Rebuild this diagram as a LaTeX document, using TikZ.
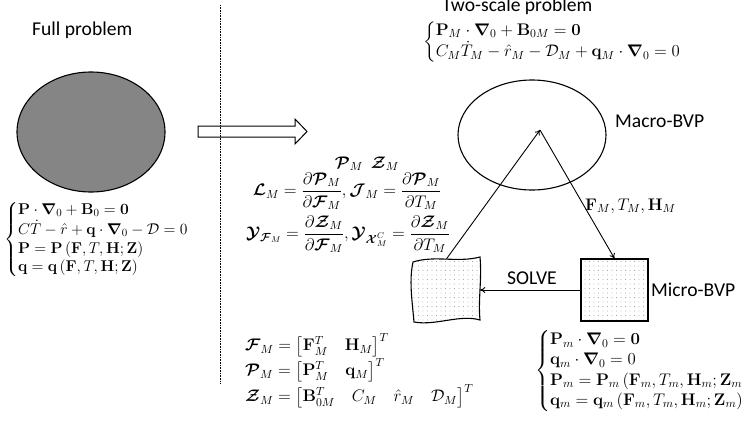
\RequirePackage{fix-cm}
\documentclass[tikz,border=0pt]{standalone}
\usepackage{amsmath,amssymb}
\usepackage[no-math]{fontspec}
\setmainfont{Carlito}
\usetikzlibrary{arrows.meta,patterns.meta,shapes.geometric}
\newcommand{\bc}[1]{\boldsymbol{\mathcal{#1}}}
\newcommand{\bnab}{\boldsymbol{\nabla}}
\tikzset{
  lbl/.style={font=\fontsize{19.6}{22}\selectfont, inner sep=0pt},
  eq/.style={font=\fontsize{16.8}{16.8}\selectfont, inner sep=0pt},
  eqs/.style={font=\fontsize{15.6}{15.6}\selectfont, inner sep=0pt},
  conn/.style={-{To[length=5pt,width=6pt]}, line width=0.9pt},
  bvp/.style={line width=1.1pt},
  dotfill/.style={pattern={Dots[distance=4.5pt,radius=0.45pt]}, pattern color=black!55},
}
\begin{document}
\begin{tikzpicture}[x=1pt,y=-1pt]
\useasboundingbox (0,0) rectangle (743,428);

% left side
\node[lbl, anchor=base west] (fulltitle) at (32,35.7) {Full problem};
\node[draw, ellipse, bvp, fill=black!48, minimum width=148, minimum height=120, inner sep=0pt] (full) at (91,132) {};
\node[eqs, anchor=west] (fulleq) at (4,239.5) {$\begin{cases}\mathbf{P}\cdot\bnab_0+\mathbf{B}_0=\mathbf{0}\\ C\dot{T}-\hat{r}+\mathbf{q}\cdot\bnab_0-\mathcal{D}=0\\ \mathbf{P}=\mathbf{P}\left(\mathbf{F},T,\mathbf{H};\mathbf{Z}\right)\\ \mathbf{q}=\mathbf{q}\left(\mathbf{F},T,\mathbf{H};\mathbf{Z}\right)\end{cases}$};

% block arrow and divider
\draw[line width=1pt] (198,126) -- (295,126) -- (295,119) -- (307,131.5) -- (295,144) -- (295,137) -- (198,137) -- cycle;
\draw[line width=0.8pt, dash pattern=on 0.8pt off 0.8pt] (220,5) -- (220,383);

% two-scale
\node[lbl, anchor=base west] (twotitle) at (442,12) {Two-scale problem};
\node[eq, anchor=west] (macroeq) at (423,42) {$\begin{cases}\mathbf{P}_M\cdot\bnab_0+\mathbf{B}_{0M}=\mathbf{0}\\ C_M\dot{T}_M-\hat{r}_M-\mathcal{D}_M+\mathbf{q}_M\cdot\bnab_0=0\end{cases}$};

\node[draw, ellipse, bvp, minimum width=148, minimum height=110, inner sep=0pt] (macro) at (532,135) {};
\node[lbl, anchor=base west] (macrolbl) at (615,127) {Macro-BVP};

\node[draw, bvp, dotfill, minimum width=67, minimum height=62, inner sep=0pt] (micro) at (614.5,290) {};
\node[lbl, anchor=base west] (microlbl) at (651,296) {Micro-BVP};

\node[inner sep=0pt, minimum width=67, minimum height=62] (doc) at (446.5,290) {};
\draw[bvp, dotfill] (413,262) .. controls (435,255) and (457,263) .. (480,257)
  .. controls (482,280) and (478,300) .. (480,320)
  .. controls (460,314) and (436,326) .. (414,322)
  .. controls (412,300) and (409,280) .. (413,262) -- cycle;

\coordinate (apex) at (540,130);
\draw[conn] (doc.north) -- (apex);
\draw[conn] (apex) -- (micro.north);
\draw[conn] (micro.west) -- (doc.east);
\node[lbl, anchor=base west] (solve) at (507,284) {SOLVE};
\node[eq, anchor=base west] (fth) at (585,210) {$\mathbf{F}_M,T_M,\mathbf{H}_M$};

% middle equations
\node[eq, anchor=base] (pz) at (367,168) {$\bc{P}_M\ \ \bc{Z}_M$};
\node[eq, anchor=center] (lj) at (347,191) {$\bc{L}_M=\dfrac{\partial\bc{P}_M}{\partial\bc{F}_M},\bc{J}_M=\dfrac{\partial\bc{P}_M}{\partial T_M}$};
\node[eq, anchor=center] (yy) at (348,234) {$\bc{Y}_{\bc{F}_M}=\dfrac{\partial\bc{Z}_M}{\partial\bc{F}_M},\bc{Y}_{\bc{X}^C_M}=\dfrac{\partial\bc{Z}_M}{\partial T_M}$};

% bottom definitions
\node[eq, anchor=west] (fdef) at (245,345) {$\bc{F}_M=\left[\mathbf{F}_M^T\quad\mathbf{H}_M\right]^T$};
\node[eq, anchor=west] (pdef) at (245,370) {$\bc{P}_M=\left[\mathbf{P}_M^T\quad\mathbf{q}_M\right]^T$};
\node[eq, anchor=west] (zdef) at (245,396) {$\bc{Z}_M=\left[\mathbf{B}_{0M}^T\quad C_M\quad\hat{r}_M\quad\mathcal{D}_M\right]^T$};

% micro equations
\node[eq, anchor=west] (microeq) at (535,371) {$\begin{cases}\mathbf{P}_m\cdot\bnab_0=\mathbf{0}\\ \mathbf{q}_m\cdot\bnab_0=0\\ \mathbf{P}_m=\mathbf{P}_m\left(\mathbf{F}_m,T_m,\mathbf{H}_m;\mathbf{Z}_m\right)\\ \mathbf{q}_m=\mathbf{q}_m\left(\mathbf{F}_m,T_m,\mathbf{H}_m;\mathbf{Z}_m\right)\end{cases}$};
\end{tikzpicture}
\end{document}
